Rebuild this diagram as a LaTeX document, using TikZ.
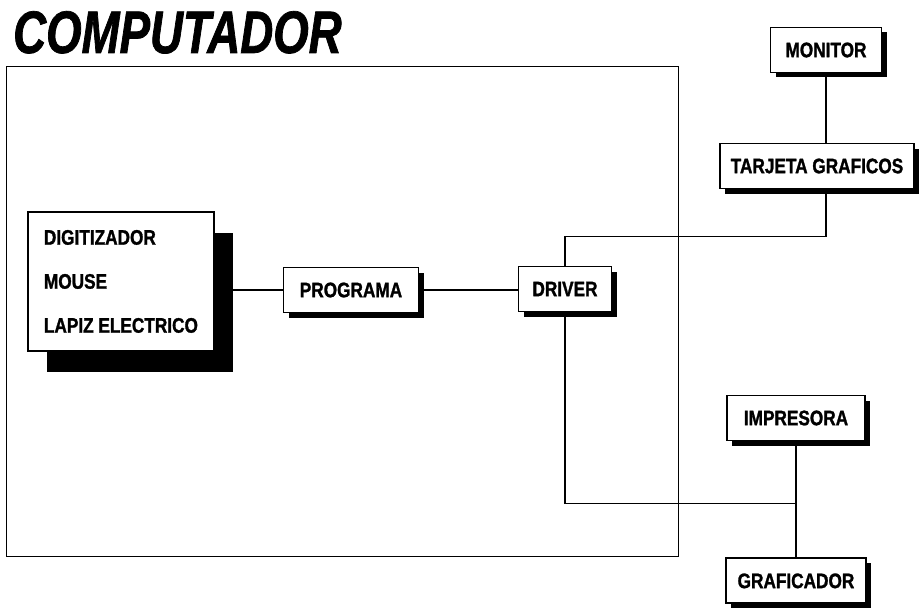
\documentclass[tikz,border=0pt]{standalone}
\usepackage{fontspec}
\newfontfamily\boxfont[FakeStretch=0.82,BoldFeatures={FakeBold=1.3}]{Liberation Sans}
\newfontfamily\titlefont[FakeStretch=0.76,BoldItalicFeatures={FakeBold=1.2}]{Liberation Sans}
\usetikzlibrary{positioning,shadows,backgrounds}

\begin{document}
\begin{tikzpicture}[
  x=1pt, y=-1pt,
  box/.style={draw,line width=1.9pt,fill=white,minimum height=45pt,inner xsep=8pt,
              font=\boxfont\bfseries\fontsize{21}{24}\selectfont},
  unit/.style={box,drop shadow={fill=black,opacity=1,shadow xshift=5pt,shadow yshift=-5pt}},
  bigunit/.style={box,drop shadow={fill=black,opacity=1,shadow xshift=19pt,shadow yshift=-21pt}},
  link/.style={line width=1.3pt},
]
\useasboundingbox (0,0) rectangle (919,610);
% the computer frame and its title
\node[draw,line width=1.3pt,minimum width=672pt,minimum height=490pt,anchor=north west] (comp) at (6,66) {};
\node[anchor=base west,inner sep=0pt,font=\titlefont\bfseries\itshape\fontsize{60}{60}\selectfont] (title) at (13,53) {COMPUTADOR};
% inside the computer
\node[bigunit,anchor=north west,minimum width=186pt,minimum height=139pt,align=left,
      font=\boxfont\bfseries\fontsize{21}{44}\selectfont] (inbox) at (27,211)
  {DIGITIZADOR\\MOUSE\\LAPIZ ELECTRICO};
\node[unit,minimum width=135pt] (prog) at (351,290) {PROGRAMA};
\node[unit,minimum width=93pt] (driver) at (565,289) {DRIVER};
% outside devices
\node[unit,minimum width=111pt] (monitor) at (826,50) {MONITOR};
\node[unit,minimum width=194pt] (tarjeta) at (817,166) {TARJETA GRAFICOS};
\node[unit,minimum width=138pt] (impr) at (796,418) {IMPRESORA};
\node[unit,minimum width=140pt,below=116pt of impr] (graf) {GRAFICADOR};
% connections
\begin{scope}[on background layer]
\draw[link] (inbox.east |- prog.west) -- (prog.west);
\draw[link] (prog.east) -- (prog.east -| driver.west);
\draw[link] (driver.north) -- ++(0,-29) -| (tarjeta.south -| monitor.south);
\draw[link] (monitor.south) -- (monitor.south |- tarjeta.north);
\draw[link] (driver.south) -- ++(0,191) -| (impr.south);
\draw[link] (impr.south) -- (graf.north);
\end{scope}
\end{tikzpicture}
\end{document}
